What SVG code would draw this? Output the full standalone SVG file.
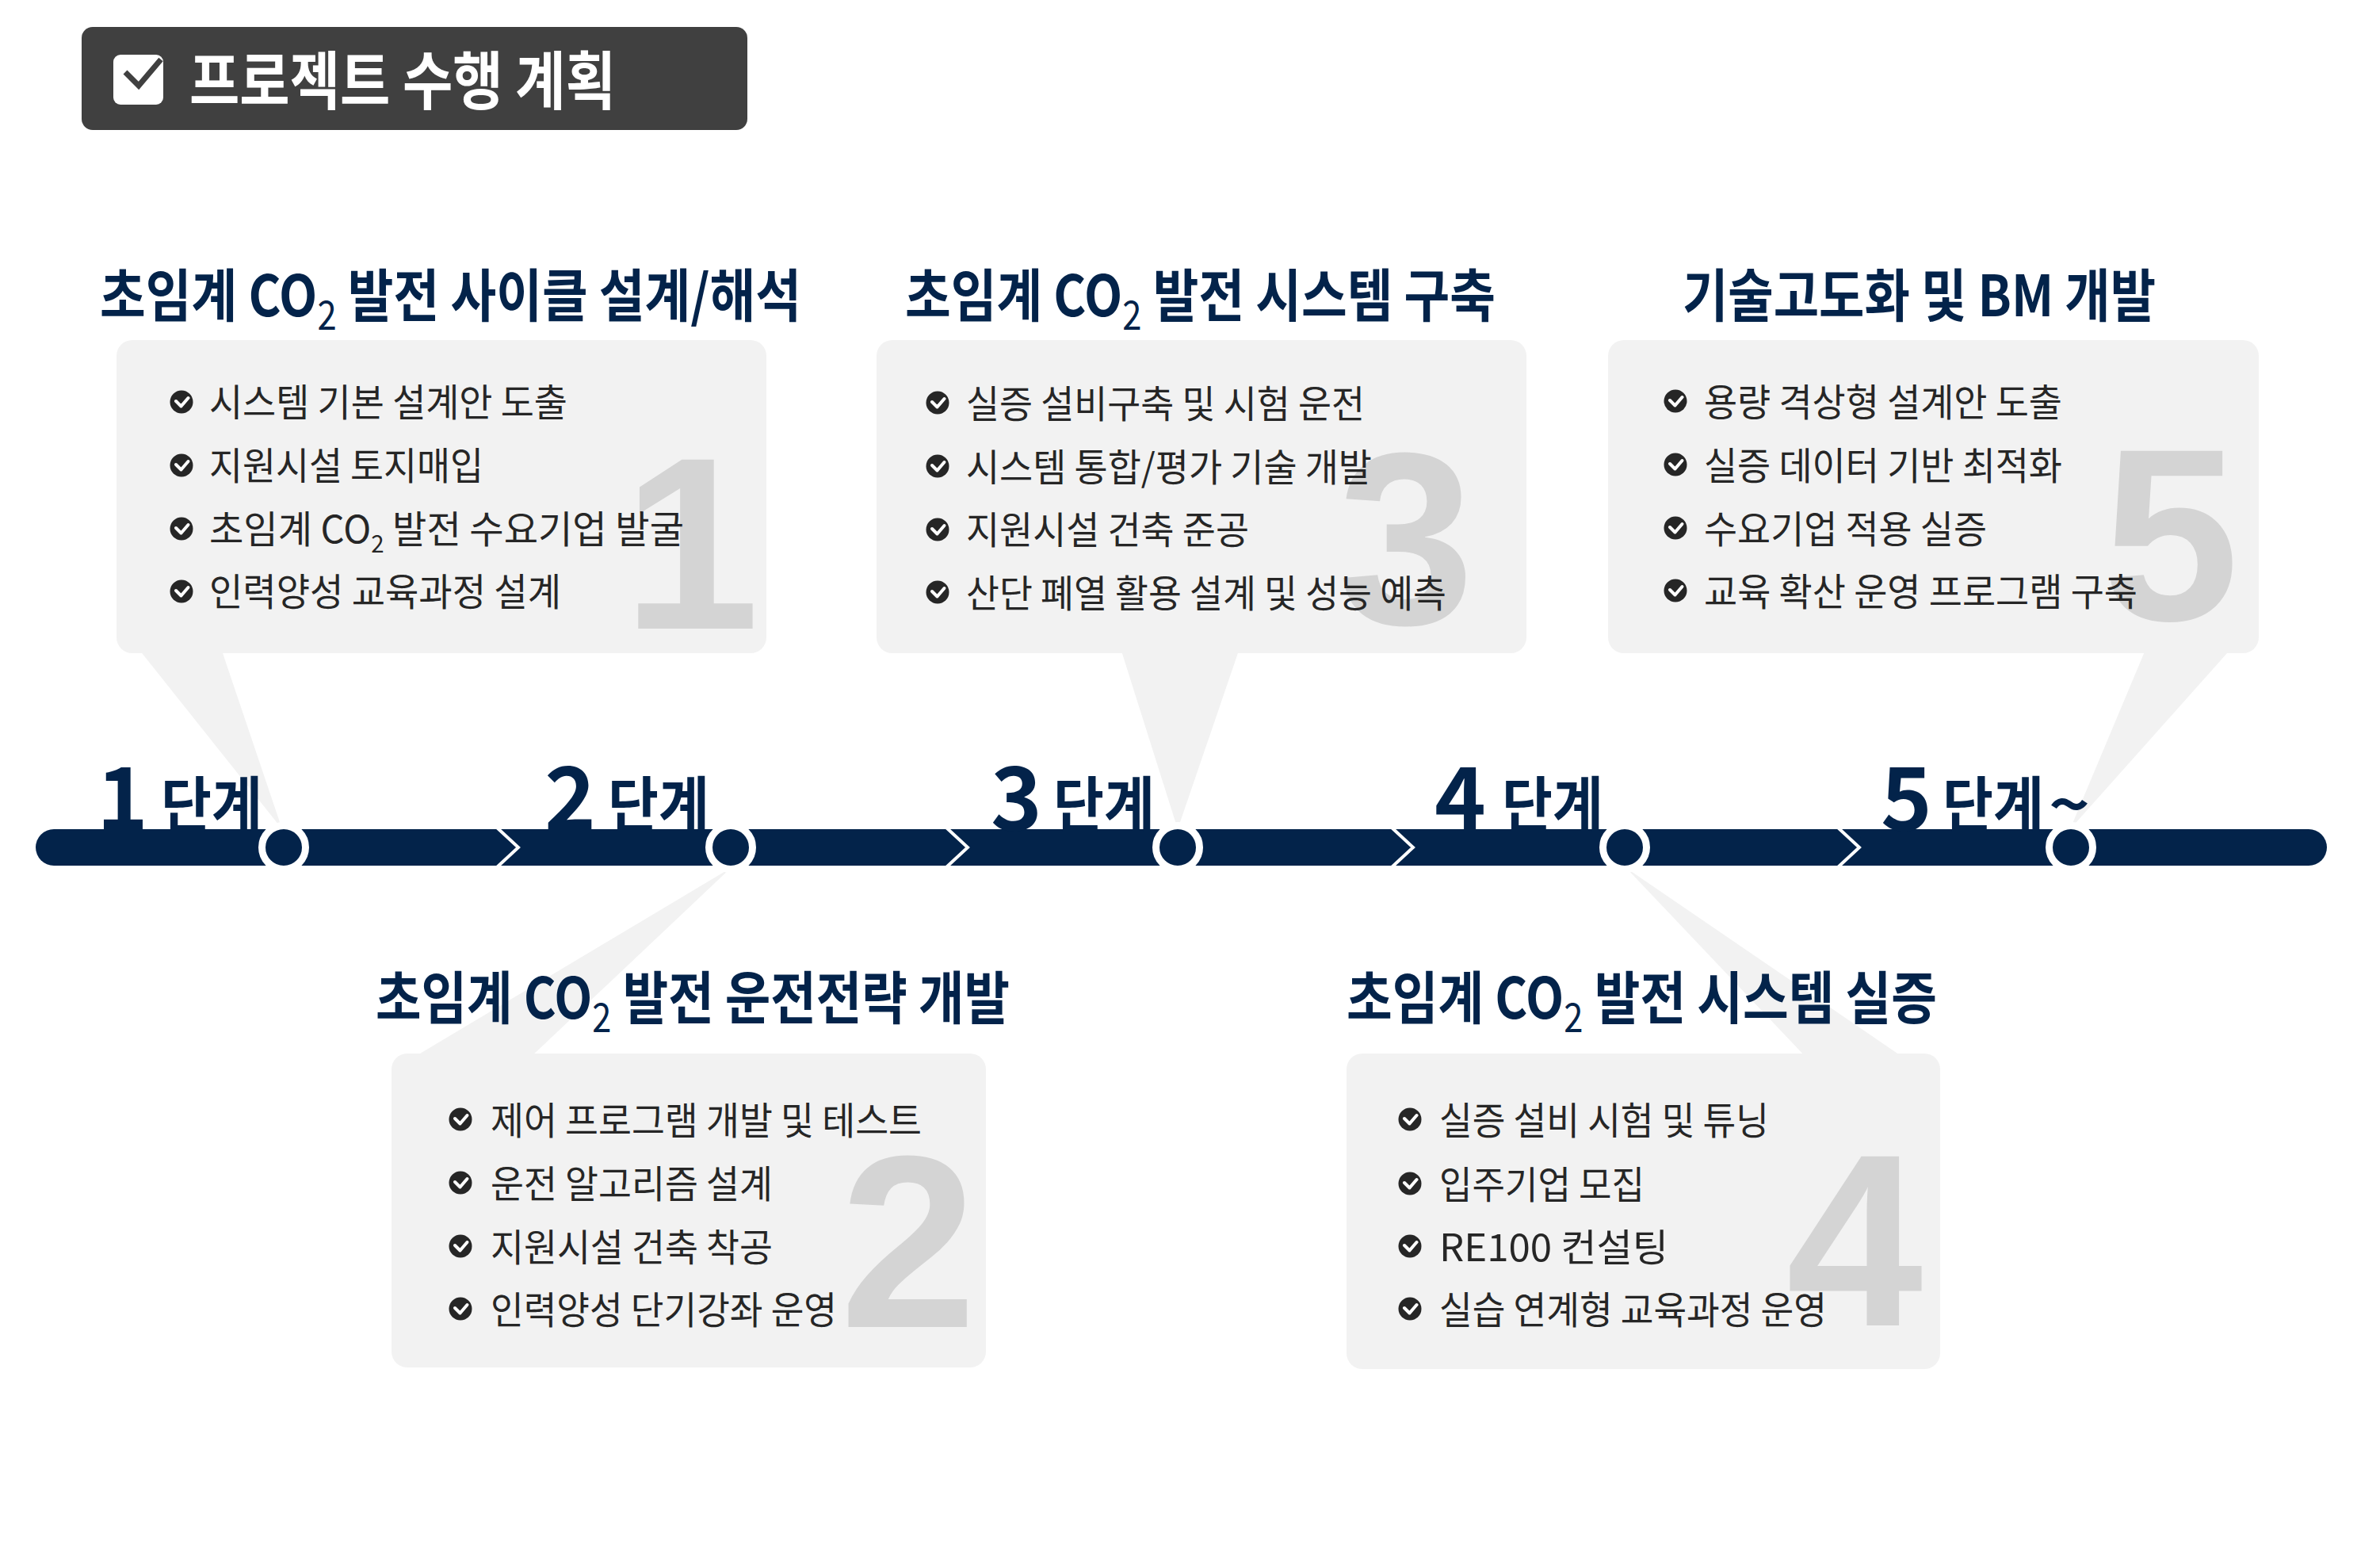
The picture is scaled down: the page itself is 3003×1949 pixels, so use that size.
<svg xmlns="http://www.w3.org/2000/svg" xmlns:xlink="http://www.w3.org/1999/xlink" width="3003" height="1949" viewBox="0 0 3003 1949">
<defs>
<style>
.kr{font-family:"Noto Sans CJK KR","Noto Sans",sans-serif;}
.head{font-family:"Noto Sans CJK KR","Noto Sans",sans-serif;font-size:72px;font-weight:700;fill:#03234a;}
.sub{font-size:50px;font-weight:400;}
.item{font-family:"Noto Sans CJK KR","Noto Sans",sans-serif;font-size:48px;font-weight:400;fill:#262626;}
.isub{font-size:30px;}
.box{fill:#f2f2f2;}
.tail{fill:#f2f2f2;}
.big{font-family:"Liberation Sans",Arial,sans-serif;font-size:310px;font-weight:700;fill:#d4d4d4;text-anchor:middle;}
.num{font-family:"Noto Sans CJK KR","Noto Sans",sans-serif;font-size:110px;font-weight:700;fill:#03234a;}
.dan{font-family:"Noto Sans CJK KR","Noto Sans",sans-serif;font-size:76px;font-weight:700;fill:#03234a;}
.dot{fill:#03234a;stroke:#ffffff;stroke-width:9;}
.chev{fill:none;stroke:#ffffff;stroke-width:4;}
</style>
<g id="chk">
<circle cx="0" cy="0" r="14.5" fill="#262626"/>
<polyline points="-7,-1 -0.5,5.5 8.5,-5" fill="none" stroke="#ffffff" stroke-width="4" stroke-linecap="round" stroke-linejoin="round"/>
</g>
</defs>
<rect width="3003" height="1949" fill="#ffffff"/>

<g id="title">
<rect x="103" y="34" width="840" height="130" rx="14" fill="#404040"/>
<rect x="143" y="69" width="63" height="63" rx="9" fill="#ffffff"/>
<polyline points="158,91 175,108 203,75" fill="none" stroke="#404040" stroke-width="7"/>
<text x="239" y="131" class="kr" font-size="80" font-weight="700" fill="#ffffff" textLength="538" lengthAdjust="spacingAndGlyphs">프로젝트 수행 계획</text>
</g>

<g id="connectors">
<polygon class="tail" points="172,815 278,815 356,1046"/>
<polygon class="tail" points="1413,815 1565,815 1486,1046"/>
<polygon class="tail" points="2709,815 2818,815 2612,1046"/>
<polygon class="tail" points="922,1095 520,1335 668,1335"/>
<polygon class="tail" points="2052,1095 2280,1335 2403,1335"/>
</g>

<g id="timeline">
<rect x="45" y="1046" width="2891" height="46" rx="23" fill="#03234a"/>
<polyline class="chev" points="627,1044 654,1069 627,1094"/>
<polyline class="chev" points="1194,1044 1221,1069 1194,1094"/>
<polyline class="chev" points="1756,1044 1783,1069 1756,1094"/>
<polyline class="chev" points="2319,1044 2346,1069 2319,1094"/>
</g>

<g id="stage1">
<text class="head" x="126" y="399" textLength="885" lengthAdjust="spacingAndGlyphs">초임계 CO<tspan class="sub" dy="17">2</tspan><tspan dy="-17"> 발전 사이클 설계/해석</tspan></text>
<rect class="box" x="147" y="429" width="820" height="395" rx="20"/>
<text class="big" x="872" y="793">1</text>
<use xlink:href="#chk" x="229" y="507"/>
<use xlink:href="#chk" x="229" y="587"/>
<use xlink:href="#chk" x="229" y="667"/>
<use xlink:href="#chk" x="229" y="746"/>
<text class="item" x="264" y="525" textLength="452" lengthAdjust="spacingAndGlyphs">시스템 기본 설계안 도출</text>
<text class="item" x="264" y="605" textLength="346" lengthAdjust="spacingAndGlyphs">지원시설 토지매입</text>
<text class="item" x="264" y="685" textLength="599" lengthAdjust="spacingAndGlyphs">초임계 CO<tspan class="isub" dy="12">2</tspan><tspan dy="-12"> 발전 수요기업 발굴</tspan></text>
<text class="item" x="264" y="764" textLength="444" lengthAdjust="spacingAndGlyphs">인력양성 교육과정 설계</text>
<text class="num" x="122" y="1047">1</text>
<text class="dan" x="203" y="1043" textLength="128" lengthAdjust="spacingAndGlyphs">단계</text>
<circle class="dot" cx="358" cy="1069" r="27.5"/>
</g>

<g id="stage2">
<text class="head" x="474" y="1285" textLength="800" lengthAdjust="spacingAndGlyphs">초임계 CO<tspan class="sub" dy="17">2</tspan><tspan dy="-17"> 발전 운전전략 개발</tspan></text>
<rect class="box" x="494" y="1329" width="750" height="396" rx="20"/>
<text class="big" x="1146" y="1674">2</text>
<use xlink:href="#chk" x="581" y="1412"/>
<use xlink:href="#chk" x="581" y="1492"/>
<use xlink:href="#chk" x="581" y="1572"/>
<use xlink:href="#chk" x="581" y="1651"/>
<text class="item" x="619" y="1431" textLength="544" lengthAdjust="spacingAndGlyphs">제어 프로그램 개발 및 테스트</text>
<text class="item" x="619" y="1511" textLength="356" lengthAdjust="spacingAndGlyphs">운전 알고리즘 설계</text>
<text class="item" x="619" y="1591" textLength="356" lengthAdjust="spacingAndGlyphs">지원시설 건축 착공</text>
<text class="item" x="619" y="1670" textLength="437" lengthAdjust="spacingAndGlyphs">인력양성 단기강좌 운영</text>
<text class="num" x="687" y="1047">2</text>
<text class="dan" x="767" y="1043" textLength="128" lengthAdjust="spacingAndGlyphs">단계</text>
<circle class="dot" cx="922" cy="1069" r="27.5"/>
</g>

<g id="stage3">
<text class="head" x="1142" y="399" textLength="745" lengthAdjust="spacingAndGlyphs">초임계 CO<tspan class="sub" dy="17">2</tspan><tspan dy="-17"> 발전 시스템 구축</tspan></text>
<rect class="box" x="1106" y="429" width="820" height="395" rx="20"/>
<text class="big" x="1774" y="787">3</text>
<use xlink:href="#chk" x="1183" y="508"/>
<use xlink:href="#chk" x="1183" y="588"/>
<use xlink:href="#chk" x="1183" y="668"/>
<use xlink:href="#chk" x="1183" y="747"/>
<text class="item" x="1219" y="527" textLength="503" lengthAdjust="spacingAndGlyphs">실증 설비구축 및 시험 운전</text>
<text class="item" x="1219" y="607" textLength="512" lengthAdjust="spacingAndGlyphs">시스템 통합/평가 기술 개발</text>
<text class="item" x="1219" y="686" textLength="357" lengthAdjust="spacingAndGlyphs">지원시설 건축 준공</text>
<text class="item" x="1219" y="766" textLength="606" lengthAdjust="spacingAndGlyphs">산단 폐열 활용 설계 및 성능 예측</text>
<text class="num" x="1250" y="1047">3</text>
<text class="dan" x="1329" y="1043" textLength="128" lengthAdjust="spacingAndGlyphs">단계</text>
<circle class="dot" cx="1486" cy="1069" r="27.5"/>
</g>

<g id="stage4">
<text class="head" x="1699" y="1285" textLength="745" lengthAdjust="spacingAndGlyphs">초임계 CO<tspan class="sub" dy="17">2</tspan><tspan dy="-17"> 발전 시스템 실증</tspan></text>
<rect class="box" x="1699" y="1329" width="749" height="398" rx="20"/>
<text class="big" x="2340" y="1672">4</text>
<use xlink:href="#chk" x="1779" y="1412"/>
<use xlink:href="#chk" x="1779" y="1493"/>
<use xlink:href="#chk" x="1779" y="1572"/>
<use xlink:href="#chk" x="1779" y="1651"/>
<text class="item" x="1816" y="1431" textLength="416" lengthAdjust="spacingAndGlyphs">실증 설비 시험 및 튜닝</text>
<text class="item" x="1816" y="1512" textLength="259" lengthAdjust="spacingAndGlyphs">입주기업 모집</text>
<text class="item" x="1816" y="1591" textLength="289" lengthAdjust="spacingAndGlyphs">RE100 컨설팅</text>
<text class="item" x="1816" y="1670" textLength="489" lengthAdjust="spacingAndGlyphs">실습 연계형 교육과정 운영</text>
<text class="num" x="1810" y="1047">4</text>
<text class="dan" x="1895" y="1043" textLength="128" lengthAdjust="spacingAndGlyphs">단계</text>
<circle class="dot" cx="2050" cy="1069" r="27.5"/>
</g>

<g id="stage5">
<text class="head" x="2123" y="399" textLength="597" lengthAdjust="spacingAndGlyphs">기술고도화 및 BM 개발</text>
<rect class="box" x="2029" y="429" width="821" height="395" rx="20"/>
<text class="big" x="2739" y="782">5</text>
<use xlink:href="#chk" x="2114" y="506"/>
<use xlink:href="#chk" x="2114" y="586"/>
<use xlink:href="#chk" x="2114" y="666"/>
<use xlink:href="#chk" x="2114" y="745"/>
<text class="item" x="2150" y="525" textLength="452" lengthAdjust="spacingAndGlyphs">용량 격상형 설계안 도출</text>
<text class="item" x="2150" y="605" textLength="452" lengthAdjust="spacingAndGlyphs">실증 데이터 기반 최적화</text>
<text class="item" x="2150" y="685" textLength="357" lengthAdjust="spacingAndGlyphs">수요기업 적용 실증</text>
<text class="item" x="2150" y="764" textLength="547" lengthAdjust="spacingAndGlyphs">교육 확산 운영 프로그램 구축</text>
<text class="num" x="2373" y="1047">5</text>
<text class="dan" x="2451" y="1043" textLength="128" lengthAdjust="spacingAndGlyphs">단계</text>
<text class="dan" x="2585" y="1043" textLength="52" lengthAdjust="spacingAndGlyphs">~</text>
<circle class="dot" cx="2613" cy="1069" r="27.5"/>
</g>
</svg>
